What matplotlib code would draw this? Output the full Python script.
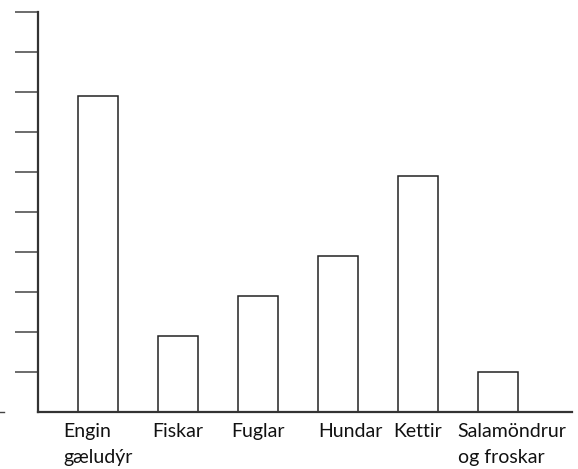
import matplotlib
matplotlib.use("Agg")
import matplotlib.pyplot as plt
from matplotlib.transforms import ScaledTranslation
from matplotlib.lines import Line2D

categories = ["Engin\ngæludýr", "Fiskar", "Fuglar", "Hundar", "Kettir", "Salamöndrur\nog froskar"]
values = [7.9, 1.9, 2.9, 3.9, 5.9, 1.0]
yticks = [1, 2, 3, 4, 5, 6, 7, 8, 9, 10]

W, H = 578, 469
fig = plt.figure(figsize=(W / 100, H / 100), dpi=100)
ax = fig.add_axes([38 / W, 1 - 412 / H, (572 - 38) / W, 400 / H])

x = list(range(len(categories)))
ax.bar(x, values, width=0.5, facecolor="white", edgecolor="#222222", linewidth=1.1)

ax.set_xlim(-0.745, 5.925)
ax.set_ylim(0, 10)
ax.set_yticks(yticks)
ax.set_yticklabels([])
ax.tick_params(axis="y", direction="out", length=16.5, width=1.1, color="#444444")
ax.set_xticks(x)
labels = ax.set_xticklabels(categories, fontsize=14, family="Lato",
                            multialignment="left", color="#111111", linespacing=1.6)
ax.tick_params(axis="x", length=0, pad=8)

# small horizontal shifts of some labels as in the reference (pixels)
shifts = {3: 13, 5: 14}
for i, dx in shifts.items():
    lab = labels[i]
    lab.set_transform(lab.get_transform() + ScaledTranslation(dx / 100, 0, fig.dpi_scale_trans))

for s in ["top", "right"]:
    ax.spines[s].set_visible(False)
for s in ["left", "bottom"]:
    ax.spines[s].set_linewidth(1.6)
    ax.spines[s].set_color("#333333")

# tiny stray dash at the far left of the baseline
fig.add_artist(Line2D([0, 4 / W], [1 - 412 / H, 1 - 412 / H], transform=fig.transFigure,
                      color="#444444", linewidth=1.0))

fig.savefig("out.png", dpi=100)
